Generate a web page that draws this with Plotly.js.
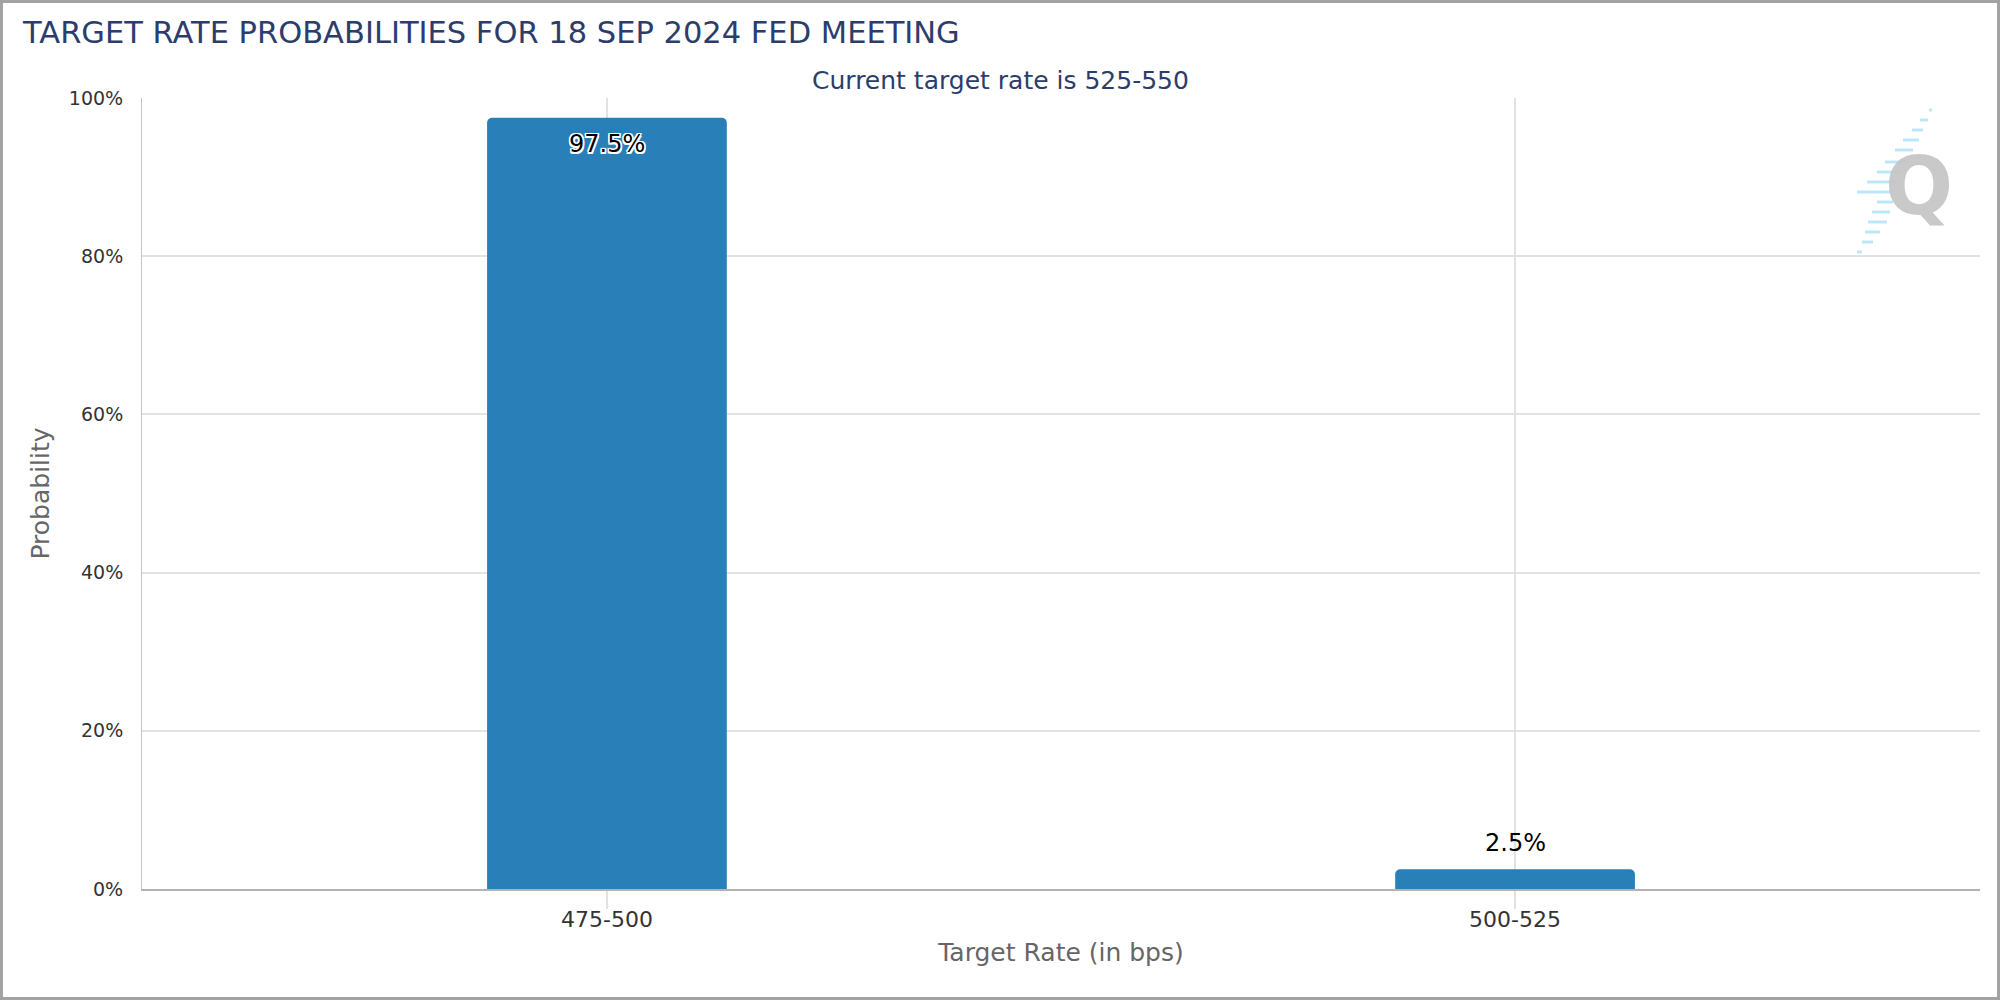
<!DOCTYPE html>
<html>
<head>
<meta charset="utf-8">
<script src="https://cdn.plot.ly/plotly-3.0.1.min.js"></script>
<style>
  html, body { margin: 0; padding: 0; background: #fff; }
  #wrap { width: 2000px; height: 1000px; box-sizing: border-box; border: 3px solid #a3a3a3; }
  #chart { width: 1994px; height: 994px; }
</style>
</head>
<body>
<div id="wrap"><div id="chart"></div></div>
<script>
// ---- data ----
const categories = ["475-500", "500-525"];
const probabilities = [0.975, 0.025];
const valueLabels = ["97.5%", "2.5%"];
const yTickValues = [0, 0.2, 0.4, 0.6, 0.8, 1.0];
const yTickLabels = ["0%", "20%", "40%", "60%", "80%", "100%"];
const chartTitle = "TARGET RATE PROBABILITIES FOR 18 SEP 2024 FED MEETING";
const subTitle = "Current target rate is 525-550";
const xTitle = "Target Rate (in bps)";
const yTitle = "Probability";

// ---- layout constants (pixels in the chart div) ----
const W = 1994, H = 994;
const L = 139, R = 1977, T = 95, B = 886;
const px = x => (x - 3 - L) / (R - L);
const py = y => (B - (y - 3)) / (B - T);

const NAVY = "#2c3d6b";
const FONT = "DejaVu Sans";

const trace = {
  type: "bar",
  x: categories,
  y: probabilities,
  width: 0.264,
  marker: { color: "#2980b9", cornerradius: 5, line: { width: 0 } },
  hoverinfo: "skip"
};

// Logo dashes (decoration)
const dashes = [
  [110, 1929, 1932], [120, 1920, 1928], [130, 1912, 1923], [140, 1903, 1919],
  [150, 1895, 1913], [162, 1885, 1908], [172, 1877, 1902], [182, 1867, 1897],
  [192, 1857, 1892], [202, 1877, 1893], [212, 1872, 1890], [222, 1868, 1887],
  [232, 1865, 1880], [242, 1862, 1873], [252, 1857, 1862]
];
const shapes = dashes.map(d => ({
  type: "line", xref: "paper", yref: "paper", layer: "below",
  x0: px(d[1]), x1: px(d[2]), y0: py(d[0]), y1: py(d[0]),
  line: { color: "rgba(160,220,248,0.7)", width: 3 }
}));

const annotations = [
  {
    text: subTitle, xref: "paper", yref: "paper", x: px(1000), y: py(80),
    xanchor: "center", yanchor: "middle", showarrow: false,
    font: { family: FONT, size: 25, color: NAVY }
  },
  {
    text: "Q", xref: "paper", yref: "paper", x: px(1919), y: py(186),
    xanchor: "center", yanchor: "middle", showarrow: false,
    font: { family: FONT, size: 80, color: "rgba(195,195,195,0.9)", weight: 700 }
  }
];
categories.forEach((c, i) => {
  const inside = i === 0;
  annotations.push({
    text: valueLabels[i], x: c, y: probabilities[i], xref: "x", yref: "y",
    xanchor: "center", yanchor: "middle", showarrow: false,
    yshift: inside ? -26 : 26,
    font: {
      family: FONT, size: 24, color: "#000",
      shadow: inside ? "-1.5px -1.5px 0 #fff, 1.5px -1.5px 0 #fff, -1.5px 1.5px 0 #fff, 1.5px 1.5px 0 #fff, 0 1.5px 0 #fff, 0 -1.5px 0 #fff, 1.5px 0 0 #fff, -1.5px 0 0 #fff" : "none"
    }
  });
});

const layout = {
  width: W, height: H,
  margin: { l: L, r: W - R, t: T, b: H - B, pad: 0 },
  paper_bgcolor: "#fff", plot_bgcolor: "#fff",
  showlegend: false,
  font: { family: FONT, color: "#333" },
  title: {
    text: chartTitle, xref: "container", yref: "container",
    x: 20 / W, xanchor: "left", y: 1 - 29 / H, yanchor: "middle",
    font: { family: FONT, size: 30.5, color: NAVY }
  },
  xaxis: {
    type: "category",
    range: [-0.512, 1.512],
    showgrid: true, gridcolor: "#e2e2e2", gridwidth: 2,
    showline: true, linecolor: "#b3b3b3", linewidth: 2,
    ticks: "outside", ticklen: 18, tickwidth: 2, tickcolor: "#e2e2e2",
    ticklabelstandoff: -8,
    tickfont: { family: FONT, size: 22, color: "#333" },
    zeroline: false, fixedrange: true,
    title: { text: xTitle, standoff: 12, font: { family: FONT, size: 25, color: "#666" } }
  },
  yaxis: {
    range: [0, 1],
    tickvals: yTickValues, ticktext: yTickLabels,
    showgrid: true, gridcolor: "#e2e2e2", gridwidth: 2,
    showline: true, linecolor: "#c4c4c4", linewidth: 1,
    ticks: "", ticklabelstandoff: 14,
    tickfont: { family: FONT, size: 19, color: "#333" },
    zeroline: false, fixedrange: true,
    title: { text: yTitle, standoff: 12, font: { family: FONT, size: 25, color: "#666" } }
  },
  shapes: shapes,
  annotations: annotations
};

Plotly.newPlot("chart", [trace], layout, { staticPlot: true, displayModeBar: false });
</script>
</body>
</html>
